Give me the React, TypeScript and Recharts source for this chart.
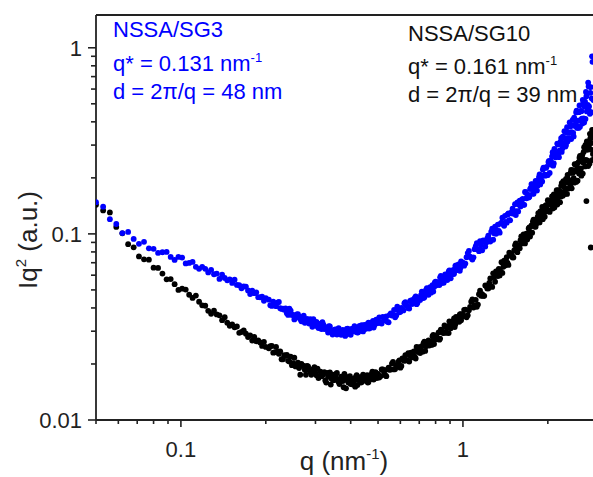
import { ScatterChart, Scatter, XAxis, YAxis, ReferenceLine } from "recharts";

// Colors / fonts
const COLORS = {
    sg3: "#0000ff", // blue
    sg10: "#000000", // black
    axis: "#222222",
};
const FONT = "'Liberation Sans', Arial, Helvetica, sans-serif";

// q (nm^-1), shared by both samples
const qValues = [
    0.050, 0.053, 0.056, 0.059, 0.062, 0.065, 0.068, 0.071, 0.074, 0.077,
    0.080, 0.083, 0.086, 0.089, 0.092, 0.095, 0.098, 0.101, 0.104, 0.107,
    0.110, 0.113, 0.116, 0.119, 0.122, 0.125, 0.128, 0.131, 0.134, 0.137,
    0.140, 0.143, 0.146, 0.149, 0.152, 0.155, 0.158, 0.161, 0.164, 0.167,
    0.170, 0.173, 0.176, 0.179, 0.182, 0.185, 0.188, 0.191, 0.194, 0.197,
    0.200,
    0.205, 0.210, 0.215, 0.220, 0.225, 0.230, 0.235, 0.240, 0.245, 0.250,
    0.255, 0.260, 0.265, 0.270, 0.275, 0.280, 0.285, 0.290, 0.295, 0.300,
    0.305, 0.310, 0.315, 0.320, 0.325, 0.330, 0.335, 0.340, 0.345, 0.350,
    0.355, 0.360, 0.365, 0.370, 0.375, 0.380, 0.385, 0.390, 0.395, 0.400,
    0.405, 0.410, 0.415, 0.420, 0.425, 0.430, 0.435, 0.440, 0.445, 0.450,
    0.455, 0.460, 0.465, 0.470, 0.475, 0.480, 0.485, 0.490, 0.495, 0.500,
    0.51, 0.52, 0.53, 0.54, 0.55, 0.56, 0.57, 0.58, 0.59, 0.60,
    0.61, 0.62, 0.63, 0.64, 0.65, 0.66, 0.67, 0.68, 0.69, 0.70,
    0.71, 0.72, 0.73, 0.74, 0.75, 0.76, 0.77, 0.78, 0.79, 0.80,
    0.81, 0.82, 0.83, 0.84, 0.85, 0.86, 0.87, 0.88, 0.89, 0.90,
    0.91, 0.92, 0.93, 0.94, 0.95, 0.96, 0.97, 0.98, 0.99, 1.00,
    1.02, 1.04, 1.06, 1.08, 1.10, 1.12, 1.14, 1.16, 1.18, 1.20,
    1.22, 1.24, 1.26, 1.28, 1.30, 1.32, 1.34, 1.36, 1.38, 1.40,
    1.42, 1.44, 1.46, 1.48, 1.50, 1.52, 1.54, 1.56, 1.58, 1.60,
    1.62, 1.64, 1.66, 1.68, 1.70, 1.72, 1.74, 1.76, 1.78, 1.80,
    1.82, 1.84, 1.86, 1.88, 1.90, 1.92, 1.94, 1.96, 1.98, 2.00,
    2.02, 2.04, 2.06, 2.08, 2.10, 2.12, 2.14, 2.16, 2.18, 2.20,
    2.22, 2.24, 2.26, 2.28, 2.30, 2.32, 2.34, 2.36, 2.38, 2.40,
    2.42, 2.44, 2.46, 2.48, 2.50, 2.52, 2.54, 2.56, 2.58, 2.60,
    2.62, 2.64, 2.66, 2.68, 2.70, 2.72, 2.74, 2.76, 2.78, 2.80,
    2.82, 2.84, 2.86, 2.88, 2.90,
    // interleaved high-q readings
    0.505, 0.515, 0.525, 0.535, 0.545, 0.555, 0.565, 0.575, 0.585, 0.595,
    0.605, 0.615, 0.625, 0.635, 0.645, 0.655, 0.665, 0.675, 0.685, 0.695,
    0.705, 0.715, 0.725, 0.735, 0.745, 0.755, 0.765, 0.775, 0.785, 0.795,
    0.805, 0.815, 0.825, 0.835, 0.845, 0.855, 0.865, 0.875, 0.885, 0.895,
    0.905, 0.915, 0.925, 0.935, 0.945, 0.955, 0.965, 0.975, 0.985, 0.995,
    1.01, 1.03, 1.05, 1.07, 1.09, 1.11, 1.13, 1.15, 1.17, 1.19,
    1.21, 1.23, 1.25, 1.27, 1.29, 1.31, 1.33, 1.35, 1.37, 1.39,
    1.41, 1.43, 1.45, 1.47, 1.49, 1.51, 1.53, 1.55, 1.57, 1.59,
    1.61, 1.63, 1.65, 1.67, 1.69, 1.71, 1.73, 1.75, 1.77, 1.79,
    1.81, 1.83, 1.85, 1.87, 1.89, 1.91, 1.93, 1.95, 1.97, 1.99,
    2.01, 2.03, 2.05, 2.07, 2.09, 2.11, 2.13, 2.15, 2.17, 2.19,
    2.21, 2.23, 2.25, 2.27, 2.29, 2.31, 2.33, 2.35, 2.37, 2.39,
    2.41, 2.43, 2.45, 2.47, 2.49, 2.51, 2.53, 2.55, 2.57, 2.59,
    2.61, 2.63, 2.65, 2.67, 2.69, 2.71, 2.73, 2.75, 2.77, 2.79,
    2.81, 2.83, 2.85, 2.87, 2.89,
    // interleaved mid-q readings
    0.2075, 0.2125, 0.2175, 0.2225, 0.2275, 0.2325, 0.2375, 0.2425, 0.2475, 0.2525,
    0.2575, 0.2625, 0.2675, 0.2725, 0.2775, 0.2825, 0.2875, 0.2925, 0.2975, 0.3025,
    0.3075, 0.3125, 0.3175, 0.3225, 0.3275, 0.3325, 0.3375, 0.3425, 0.3475, 0.3525,
    0.3575, 0.3625, 0.3675, 0.3725, 0.3775, 0.3825, 0.3875, 0.3925, 0.3975, 0.4025,
    0.4075, 0.4125, 0.4175, 0.4225, 0.4275, 0.4325, 0.4375, 0.4425, 0.4475, 0.4525,
    0.4575, 0.4625, 0.4675, 0.4725, 0.4775, 0.4825, 0.4875, 0.4925, 0.4975,
];

// Iq^2 (a.u.) - NSSA/SG3 (blue)
const sg3Values = [
    0.148, 0.140, 0.120, 0.113, 0.101, 0.1025, 0.094, 0.0884, 0.0906, 0.0836,
    0.0831, 0.079, 0.0797, 0.080, 0.0752, 0.0725, 0.0752, 0.0746, 0.0694, 0.0698,
    0.0707, 0.0665, 0.0649, 0.0665, 0.0649, 0.0621, 0.0641, 0.0607, 0.0612, 0.0573,
    0.0603, 0.058, 0.0563, 0.0570, 0.0545, 0.0567, 0.0532, 0.0530, 0.0510, 0.0522,
    0.0521, 0.0497, 0.0475, 0.0496, 0.0480, 0.0485, 0.0457, 0.0456, 0.0460, 0.0437,
    0.0452,
    0.0443, 0.0410, 0.0418, 0.0427, 0.0399, 0.0396, 0.0398, 0.0367, 0.0387, 0.0367,
    0.0354, 0.0371, 0.0349, 0.0354, 0.0333, 0.0349, 0.0330, 0.0335, 0.0348, 0.0327,
    0.0318, 0.0328, 0.0308, 0.0325, 0.0315, 0.0308, 0.0319, 0.0298, 0.0288, 0.0305,
    0.0306, 0.0294, 0.0297, 0.0287, 0.0305, 0.0301, 0.0291, 0.0310, 0.0295, 0.0287,
    0.0302, 0.0311, 0.0301, 0.0310, 0.0296, 0.0320, 0.0302, 0.0312, 0.0318, 0.0308,
    0.0314, 0.0329, 0.0310, 0.0329, 0.0327, 0.0341, 0.0323, 0.0329, 0.0344, 0.0333,
    0.0333, 0.0358, 0.0345, 0.0337, 0.0367, 0.0364, 0.0390, 0.0364, 0.0390, 0.0382,
    0.0394, 0.0424, 0.0414, 0.0399, 0.0436, 0.0420, 0.0441, 0.0462, 0.0427, 0.0443,
    0.0468, 0.0465, 0.0457, 0.0500, 0.0478, 0.0506, 0.0483, 0.0530, 0.0518, 0.0553,
    0.0541, 0.0535, 0.0584, 0.0544, 0.0564, 0.0586, 0.0602, 0.0565, 0.0626, 0.0595,
    0.0618, 0.0634, 0.0611, 0.0674, 0.0641, 0.0643, 0.0682, 0.0657, 0.0697, 0.0700,
    0.0693, 0.0789, 0.0754, 0.0728, 0.0828, 0.0891, 0.0807, 0.0869, 0.0923, 0.0855,
    0.0945, 0.0932, 0.1028, 0.0930, 0.1092, 0.1040, 0.1038, 0.1135, 0.1222, 0.1105,
    0.1161, 0.1272, 0.1184, 0.1290, 0.1368, 0.1314, 0.1262, 0.1476, 0.1440, 0.1405,
    0.1526, 0.1433, 0.1680, 0.1552, 0.1625, 0.1581, 0.1765, 0.1847, 0.1643, 0.1785,
    0.1896, 0.1815, 0.2020, 0.1843, 0.2035, 0.2215, 0.2060, 0.2055, 0.2292, 0.2070,
    0.2467, 0.2380, 0.2355, 0.2745, 0.2390, 0.2715, 0.2685, 0.3055, 0.2685, 0.2800,
    0.3130, 0.2755, 0.3330, 0.3075, 0.3260, 0.3010, 0.3745, 0.3255, 0.3490, 0.3775,
    0.3235, 0.3820, 0.3490, 0.4215, 0.3800, 0.4495, 0.3710, 0.4055, 0.4510, 0.3760,
    0.4580, 0.4165, 0.5250, 0.4175, 0.4835, 0.4145, 0.5495, 0.4765, 0.650, 0.4835,
    0.442, 0.614, 0.535, 0.840, 0.524,
    // interleaved high-q readings
    0.0356, 0.0330, 0.0343, 0.0360, 0.0335, 0.0374, 0.0367, 0.0356, 0.0406, 0.0379,
    0.0400, 0.0388, 0.0430, 0.0410, 0.0397, 0.0439, 0.0442, 0.0453, 0.0419, 0.0451,
    0.0442, 0.0490, 0.0452, 0.0472, 0.0511, 0.0471, 0.0518, 0.0514, 0.0490, 0.0548,
    0.0529, 0.0550, 0.0531, 0.0595, 0.0553, 0.0546, 0.0606, 0.0600, 0.0590, 0.0637,
    0.0577, 0.0636, 0.0608, 0.0646, 0.0678, 0.0638, 0.0686, 0.0633, 0.0712, 0.0686,
    0.0675, 0.0749, 0.0810, 0.0745, 0.0748, 0.0859, 0.0827, 0.0913, 0.0816, 0.0911,
    0.0898, 0.0979, 0.0910, 0.1066, 0.1008, 0.1002, 0.1121, 0.1015, 0.1149, 0.1134,
    0.1250, 0.1149, 0.1290, 0.1183, 0.1312, 0.1284, 0.1445, 0.1325, 0.1321, 0.1508,
    0.1470, 0.1544, 0.1432, 0.1675, 0.1592, 0.1569, 0.1740, 0.1852, 0.1646, 0.1740,
    0.1925, 0.1708, 0.1930, 0.2090, 0.1915, 0.1913, 0.2270, 0.2080, 0.2262, 0.2073,
    0.2435, 0.2125, 0.2470, 0.2605, 0.2325, 0.2860, 0.2580, 0.2715, 0.3020, 0.2582,
    0.3050, 0.3270, 0.2880, 0.3045, 0.3565, 0.2945, 0.3490, 0.3140, 0.3500, 0.3975,
    0.3270, 0.3520, 0.4100, 0.3340, 0.4095, 0.3880, 0.4590, 0.3780, 0.3710, 0.4900,
    0.4090, 0.4565, 0.3915, 0.5050, 0.3970, 0.5130, 0.5790, 0.4550, 0.4930, 0.6200,
    0.4540, 0.5720, 0.4505, 0.900, 0.5320,
    // interleaved mid-q readings
    0.0414, 0.0432, 0.0409, 0.0431, 0.0395, 0.0391, 0.0375, 0.0396, 0.0367, 0.0347,
    0.0369, 0.0360, 0.0339, 0.0364, 0.0335, 0.0336, 0.0348, 0.0317, 0.0331, 0.0337,
    0.0312, 0.0325, 0.0336, 0.0308, 0.0310, 0.0295, 0.0318, 0.0303, 0.0295, 0.0307,
    0.0288, 0.0312, 0.0294, 0.0291, 0.0301, 0.0283, 0.0309, 0.0302, 0.0290, 0.0309,
    0.0299, 0.0319, 0.0298, 0.0295, 0.0311, 0.0309, 0.0323, 0.0299, 0.0324, 0.0313,
    0.0311, 0.0333, 0.0312, 0.0330, 0.0336, 0.0314, 0.0332, 0.0346, 0.0332,
];

// Iq^2 (a.u.) - NSSA/SG10 (black)
const sg10Values = [
    0.1432, 0.1337, 0.1304, 0.1090, 0.1007, 0.0880, 0.0847, 0.0757, 0.0730, 0.0727,
    0.0658, 0.0656, 0.0612, 0.0570, 0.0572, 0.0537, 0.0500, 0.0508, 0.0502, 0.0471,
    0.0453, 0.0466, 0.0432, 0.0413, 0.0411, 0.0386, 0.0372, 0.0387, 0.0369, 0.0365,
    0.0344, 0.0357, 0.0333, 0.0321, 0.0326, 0.0315, 0.0318, 0.0294, 0.0297, 0.0303,
    0.0291, 0.0279, 0.0285, 0.0267, 0.0280, 0.0265, 0.0268, 0.0261, 0.0250, 0.0263,
    0.0247,
    0.0243, 0.0250, 0.0231, 0.0233, 0.0234, 0.0212, 0.0221, 0.0208, 0.0219, 0.0202,
    0.0194, 0.0203, 0.0175, 0.0196, 0.0186, 0.0195, 0.0186, 0.0175, 0.0188, 0.0179,
    0.0189, 0.0171, 0.0172, 0.0177, 0.0163, 0.0179, 0.0171, 0.0155, 0.0175, 0.0164,
    0.0177, 0.0166, 0.0156, 0.0171, 0.0162, 0.0177, 0.0148, 0.0165, 0.0170, 0.0156,
    0.0166, 0.0160, 0.0151, 0.0174, 0.0164, 0.0169, 0.0159, 0.0167, 0.0173, 0.0163,
    0.0169, 0.0159, 0.0173, 0.0168, 0.0177, 0.0167, 0.0172, 0.0181, 0.0168, 0.0177,
    0.0172, 0.0187, 0.0174, 0.0187, 0.0186, 0.0201, 0.0187, 0.0197, 0.0205, 0.0191,
    0.0214, 0.0208, 0.0209, 0.0229, 0.0222, 0.0217, 0.0234, 0.0214, 0.0236, 0.0246,
    0.0235, 0.0233, 0.0264, 0.0249, 0.0263, 0.0251, 0.0264, 0.0282, 0.0256, 0.0280,
    0.0272, 0.0296, 0.0274, 0.0301, 0.0295, 0.0322, 0.0296, 0.0313, 0.0293, 0.0333,
    0.0317, 0.0334, 0.0351, 0.0327, 0.0340, 0.0357, 0.0337, 0.0371, 0.0358, 0.0367,
    0.0392, 0.0366, 0.0405, 0.0444, 0.0413, 0.0406, 0.0474, 0.0465, 0.0464, 0.0528,
    0.0509, 0.0545, 0.0524, 0.0614, 0.0553, 0.0615, 0.0649, 0.0629, 0.0617, 0.0719,
    0.0720, 0.0698, 0.0792, 0.0764, 0.0747, 0.0816, 0.0890, 0.0798, 0.0858, 0.0925,
    0.0890, 0.0995, 0.0889, 0.1004, 0.1005, 0.1083, 0.1016, 0.1014, 0.1193, 0.1149,
    0.1135, 0.1233, 0.1155, 0.1319, 0.1250, 0.1200, 0.1353, 0.1413, 0.1323, 0.1518,
    0.1335, 0.1440, 0.1518, 0.1368, 0.1630, 0.1497, 0.1580, 0.1437, 0.1718, 0.1702,
    0.1585, 0.1875, 0.1602, 0.1795, 0.1753, 0.1975, 0.1640, 0.1970, 0.1908, 0.1822,
    0.2205, 0.1935, 0.2200, 0.1885, 0.2165, 0.1903, 0.2385, 0.2255, 0.2110, 0.2625,
    0.2250, 0.2560, 0.2110, 0.2755, 0.2480, 0.3010, 0.1500, 0.2830, 0.2315, 0.3020,
    0.3450, 0.0845, 0.3080, 0.2495, 0.3420,
    // interleaved high-q readings
    0.0169, 0.0187, 0.0181, 0.0172, 0.0191, 0.0187, 0.0205, 0.0188, 0.0194, 0.0209,
    0.0195, 0.0211, 0.0223, 0.0210, 0.0206, 0.0230, 0.0226, 0.0219, 0.0247, 0.0232,
    0.0229, 0.0249, 0.0259, 0.0235, 0.0255, 0.0268, 0.0256, 0.0253, 0.0287, 0.0271,
    0.0285, 0.0273, 0.0270, 0.0306, 0.0295, 0.0293, 0.0316, 0.0294, 0.0317, 0.0339,
    0.0311, 0.0324, 0.0340, 0.0316, 0.0358, 0.0346, 0.0342, 0.0369, 0.0343, 0.0370,
    0.0391, 0.0356, 0.0389, 0.0432, 0.0402, 0.0442, 0.0417, 0.0495, 0.0475, 0.0465,
    0.0524, 0.0509, 0.0576, 0.0519, 0.0586, 0.0628, 0.0594, 0.0598, 0.0705, 0.0665,
    0.0676, 0.0750, 0.0681, 0.0781, 0.0774, 0.0747, 0.0868, 0.0818, 0.0869, 0.0838,
    0.0970, 0.0890, 0.0937, 0.0993, 0.0933, 0.1070, 0.0967, 0.1109, 0.1164, 0.1094,
    0.1092, 0.1189, 0.1294, 0.1152, 0.1207, 0.1395, 0.1290, 0.1237, 0.1426, 0.1352,
    0.1493, 0.1313, 0.1446, 0.1592, 0.1430, 0.1385, 0.1607, 0.1716, 0.1502, 0.1646,
    0.1478, 0.1812, 0.1667, 0.1923, 0.1677, 0.1642, 0.1894, 0.2073, 0.1752, 0.1900,
    0.2130, 0.1757, 0.2125, 0.1990, 0.2370, 0.1933, 0.2223, 0.1930, 0.2430, 0.2565,
    0.2200, 0.2055, 0.2655, 0.2420, 0.2920, 0.2305, 0.2500, 0.3140, 0.2475, 0.2960,
    0.2385, 0.3265, 0.2835, 0.3620, 0.2685,
    // interleaved mid-q readings
    0.0249, 0.0230, 0.0247, 0.0227, 0.0212, 0.0223, 0.0224, 0.0206, 0.0197, 0.0216,
    0.0198, 0.0190, 0.0200, 0.0195, 0.0175, 0.0194, 0.0181, 0.0186, 0.0192, 0.0174,
    0.0168, 0.0182, 0.0174, 0.0181, 0.0159, 0.0171, 0.0180, 0.0166, 0.0164, 0.0170,
    0.0179, 0.0160, 0.0165, 0.0170, 0.0150, 0.0172, 0.0164, 0.0159, 0.0172, 0.0160,
    0.0155, 0.0167, 0.0171, 0.0154, 0.0165, 0.0170, 0.0160, 0.0175, 0.0165, 0.0163,
    0.0174, 0.0160, 0.0171, 0.0166, 0.0182, 0.0165, 0.0172, 0.0178, 0.0172,
];

// Axis ticks (log axes: labelled decades + minor ticks)
const xTicks = [
    0.05, 0.06, 0.07, 0.08, 0.09, 0.1, 0.2, 0.3, 0.4, 0.5, 0.6, 0.7, 0.8, 0.9,
    1, 2, 3,
];
const xMajor = [0.1, 1];
const yTicks = [
    0.01, 0.02, 0.03, 0.04, 0.05, 0.06, 0.07, 0.08, 0.09, 0.1, 0.2, 0.3, 0.4,
    0.5, 0.6, 0.7, 0.8, 0.9, 1,
];
const yMajor = [0.01, 0.1, 1];

const sg3Points = qValues.map((q, i) => ({ q, v: sg3Values[i] }));
const sg10Points = qValues.map((q, i) => ({ q, v: sg10Values[i] }));

const dot = (color: string) => (props: any) => (
    <circle cx={props.cx} cy={props.cy} r={2.9} fill={color} />
);

const XTick = (props: any) => {
    const { x, y, payload } = props;
    const major = xMajor.includes(payload.value);
    return (
        <g>
            <line x1={x} y1={y} x2={x} y2={y + (major ? 7 : 4)} stroke={COLORS.axis} strokeWidth={1.6} />
            {major && (
                <text x={x} y={y + 37} textAnchor="middle" fontSize={22} fontFamily={FONT} fill={COLORS.axis}>
                    {payload.value}
                </text>
            )}
        </g>
    );
};

const YTick = (props: any) => {
    const { x, y, payload } = props;
    const major = yMajor.includes(payload.value);
    return (
        <g>
            <line x1={x} y1={y} x2={x - (major ? 8 : 5)} y2={y} stroke={COLORS.axis} strokeWidth={1.6} />
            {major && (
                <text x={x - 14} y={y + 8} textAnchor="end" fontSize={22} fontFamily={FONT} fill={COLORS.axis}>
                    {payload.value}
                </text>
            )}
        </g>
    );
};

export default function App() {
    return (
        <div
            style={{
                position: "fixed",
                left: 0,
                top: 0,
                width: 593,
                height: 477,
                overflow: "hidden",
                background: "#fff",
            }}
        >
            <ScatterChart
                width={620}
                height={477}
                margin={{ top: 15, right: 22.5, bottom: 7, left: 0 }}
            >
                <XAxis
                    dataKey="q"
                    type="number"
                    scale="log"
                    domain={[0.05, 3]}
                    allowDataOverflow
                    ticks={xTicks}
                    interval={0}
                    height={50}
                    tickSize={0}
                    tickMargin={0}
                    tickLine={false}
                    tick={<XTick />}
                    axisLine={{ stroke: COLORS.axis, strokeWidth: 1.8 }}
                />
                <YAxis
                    dataKey="v"
                    type="number"
                    scale="log"
                    domain={[0.01, 1.5]}
                    allowDataOverflow
                    ticks={yTicks}
                    interval={0}
                    width={96}
                    tickSize={0}
                    tickMargin={0}
                    tickLine={false}
                    tick={<YTick />}
                    axisLine={{ stroke: COLORS.axis, strokeWidth: 1.8 }}
                />
                <ReferenceLine y={1.5} stroke={COLORS.axis} strokeWidth={1.8} />
                <Scatter
                    name="NSSA/SG10"
                    data={sg10Points}
                    fill={COLORS.sg10}
                    shape={dot(COLORS.sg10)}
                    isAnimationActive={false}
                />
                <Scatter
                    name="NSSA/SG3"
                    data={sg3Points}
                    fill={COLORS.sg3}
                    shape={dot(COLORS.sg3)}
                    isAnimationActive={false}
                />
            </ScatterChart>

            {/* axis titles and annotations */}
            <svg
                width={593}
                height={477}
                style={{ position: "absolute", left: 0, top: 0, pointerEvents: "none" }}
                fontFamily={FONT}
            >
                <text transform="translate(37,240) rotate(-90)" textAnchor="middle" fontSize={26} fill={COLORS.axis}>
                    Iq<tspan dy={-11} fontSize={15}>2</tspan>
                    <tspan dy={11}> (a.u.)</tspan>
                </text>
                <text x={344} y={470} textAnchor="middle" fontSize={26} fill={COLORS.axis}>
                    q (nm<tspan dy={-11} fontSize={15}>-1</tspan>
                    <tspan dy={11}>)</tspan>
                </text>

                <g fill={COLORS.sg3} fontSize={22}>
                    <text x={113} y={37}>NSSA/SG3</text>
                    <text x={113} y={71}>
                        q* = 0.131 nm<tspan dy={-9} fontSize={13}>-1</tspan>
                    </text>
                    <text x={113} y={99}>d = 2π/q = 48 nm</text>
                </g>
                <g fill="#111" fontSize={22}>
                    <text x={408} y={41}>NSSA/SG10</text>
                    <text x={408} y={74}>
                        q* = 0.161 nm<tspan dy={-9} fontSize={13}>-1</tspan>
                    </text>
                    <text x={408} y={102}>d = 2π/q = 39 nm</text>
                </g>
            </svg>
        </div>
    );
}
